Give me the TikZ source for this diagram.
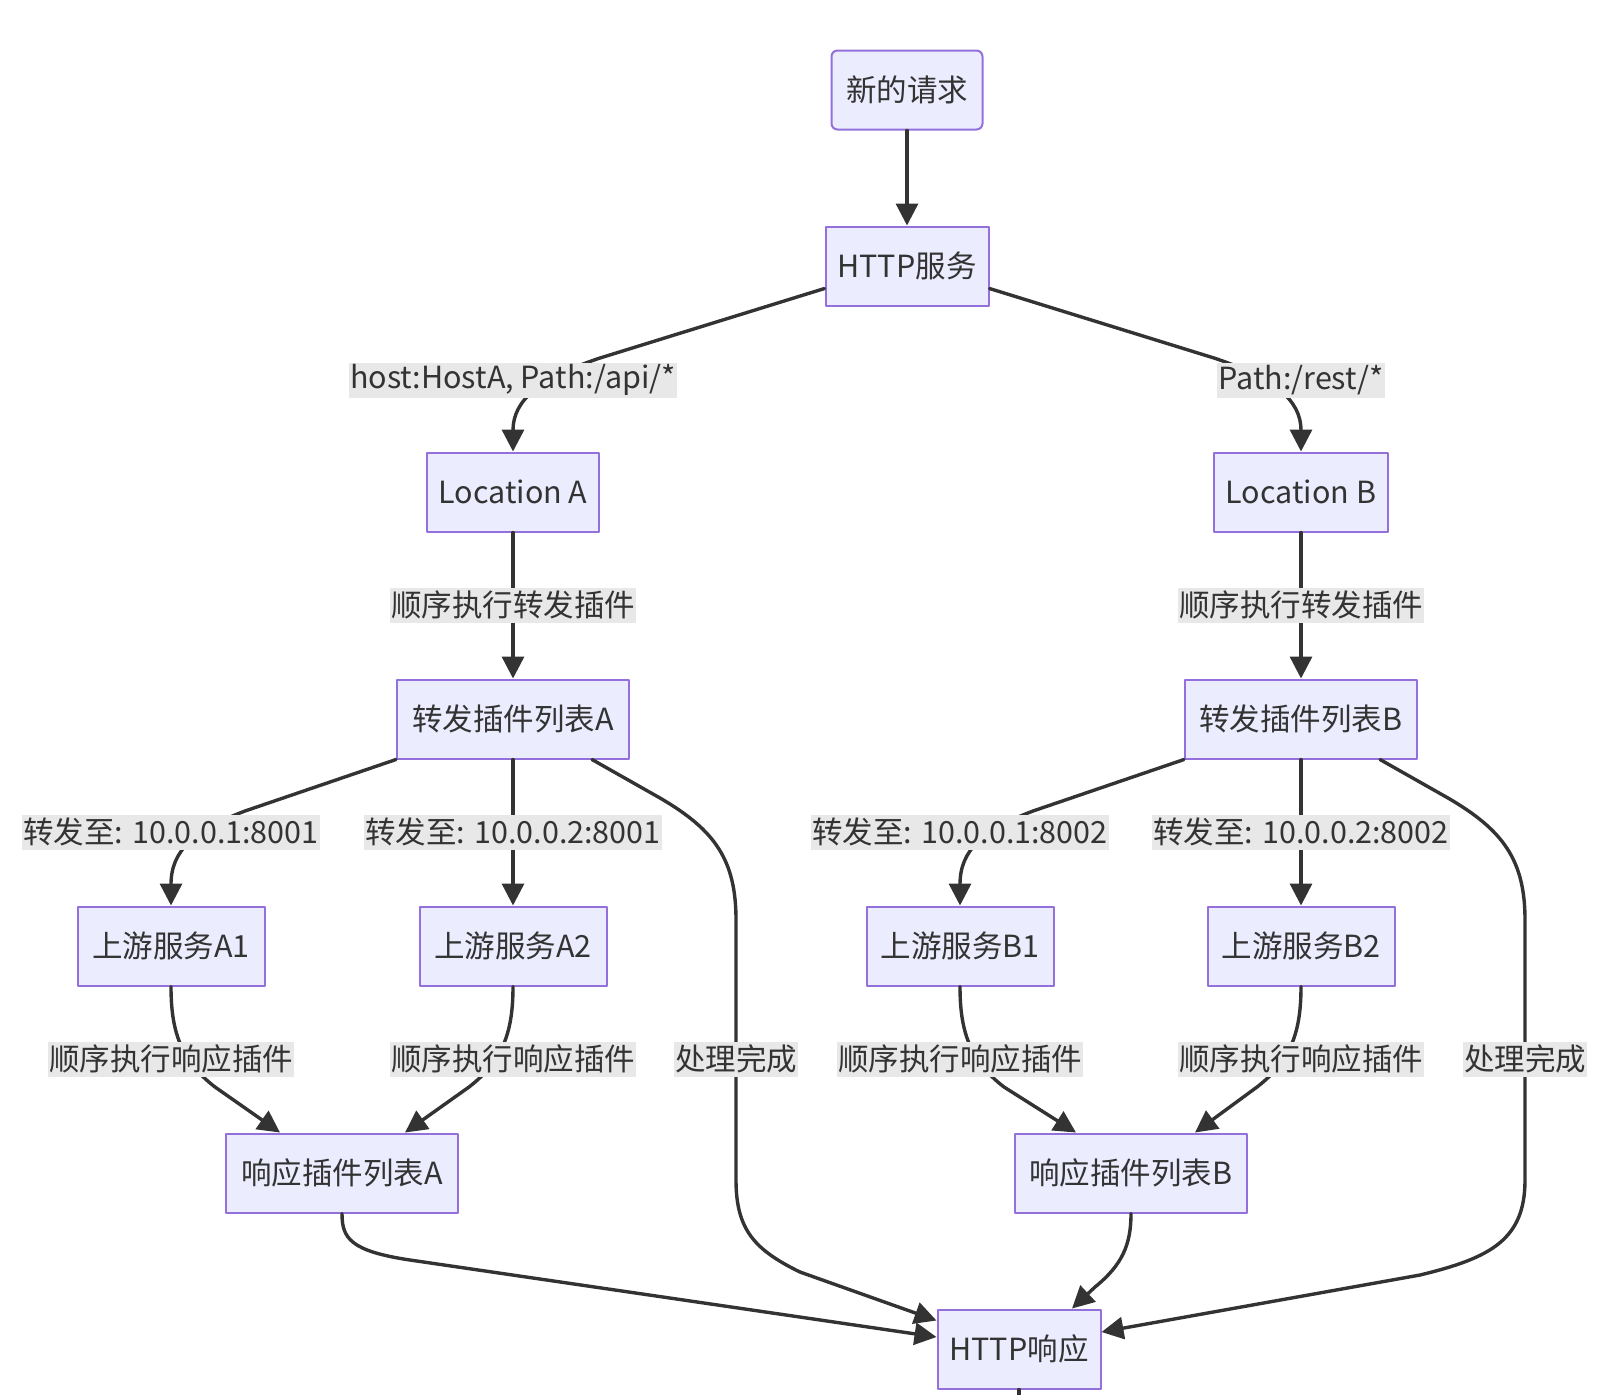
\documentclass[tikz,border=0pt]{standalone}
\usepackage{fontspec}
\setmainfont{Noto Sans CJK SC}
\usetikzlibrary{arrows.meta}
\definecolor{boxfill}{HTML}{ECECFF}
\definecolor{boxline}{HTML}{9370DB}
\definecolor{ink}{HTML}{333333}
\definecolor{lblbg}{HTML}{E8E8E8}
\begin{document}
\begin{tikzpicture}[x=0.5pt,y=-0.5pt,line join=round,line cap=round,
	font=\fontsize{15.25}{18}\selectfont,text=ink,
	box/.style={draw=boxline,fill=boxfill,line width=1pt,minimum height=39.5pt,inner sep=0pt},
	lbl/.style={fill=lblbg,inner xsep=0.5pt,inner ysep=0pt,minimum height=17.5pt},
	flow/.style={draw=ink,line width=1.7pt,-{Triangle[length=11pt,width=11pt]}}]
	\useasboundingbox (0,0) rectangle (1622,1394);
	% nodes
	\node[box,rounded corners=3pt,minimum width=75.5pt] (req) at (907,90) {新的请求};
	\node[box,minimum width=81.5pt] (http) at (907,266) {HTTP服务};
	\node[box,minimum width=86pt] (locA) at (513,492) {Location A};
	\node[box,minimum width=87pt] (locB) at (1301,492) {Location B};
	\node[box,minimum width=116pt] (fwdA) at (513,719) {转发插件列表A};
	\node[box,minimum width=116pt] (fwdB) at (1301,719) {转发插件列表B};
	\node[box,minimum width=93.5pt] (upA1) at (171,946) {上游服务A1};
	\node[box,minimum width=93.5pt] (upA2) at (513,946) {上游服务A2};
	\node[box,minimum width=93.5pt] (upB1) at (960,946) {上游服务B1};
	\node[box,minimum width=93.5pt] (upB2) at (1301,946) {上游服务B2};
	\node[box,minimum width=116pt] (respA) at (342,1173) {响应插件列表A};
	\node[box,minimum width=116pt] (respB) at (1131,1173) {响应插件列表B};
	\node[box,minimum width=81.5pt] (resp) at (1019,1349) {HTTP响应};
	\coordinate (cut) at (1019,1400);
	% connectors
	\draw[flow] (req) -- (http);
	\draw[flow] ([yshift=9pt]http.south west) -- (600,358) .. controls (540,378) and (513,400) .. (locA.north);
	\draw[flow] ([yshift=9pt]http.south east) -- (1214,358) .. controls (1274,378) and (1301,400) .. (locB.north);
	\draw[flow] (locA) -- (fwdA);
	\draw[flow] (locB) -- (fwdB);
	\draw[flow] (fwdA.south west) -- (245,811) .. controls (195,830) and (171,850) .. (upA1.north);
	\draw[flow] (fwdA) -- (upA2);
	\draw[flow] ([xshift=-19pt]fwdA.south east) -- (660,798) .. controls (715,830) and (736,860) .. (736,920)
		-- (736,1180) .. controls (736,1230) and (755,1250) .. (800,1272) -- ([yshift=-6pt]resp.north west);
	\draw[flow] (fwdB.south west) -- (1033,811) .. controls (983,830) and (960,850) .. (upB1.north);
	\draw[flow] (fwdB) -- (upB2);
	\draw[flow] ([xshift=-19pt]fwdB.south east) -- (1448,798) .. controls (1503,830) and (1525,860) .. (1525,920)
		-- (1525,1180) .. controls (1525,1240) and (1490,1258) .. (1420,1275) -- ([yshift=8.5pt]resp.east);
	\draw[flow] (upA1.south) .. controls (171,1030) and (180,1060) .. (215,1087) -- ([xshift=-31pt]respA.north);
	\draw[flow] (upA2.south) .. controls (513,1030) and (504,1060) .. (469,1087) -- ([xshift=31.5pt]respA.north);
	\draw[flow] (upB1.south) .. controls (960,1030) and (969,1060) .. (1004,1087) -- ([xshift=-27.5pt]respB.north);
	\draw[flow] (upB2.south) .. controls (1301,1030) and (1292,1060) .. (1257,1087) -- ([xshift=32pt]respB.north);
	\draw[flow] (respA.south) .. controls (342,1238) and (350,1251) .. (410,1260) -- ([yshift=6pt]resp.west);
	\draw[flow] (respB.south) .. controls (1131,1245) and (1122,1265) .. (1095,1287) -- ([xshift=26.5pt]resp.north);
	\draw[draw=ink,line width=1.7pt] (resp.south) -- (cut);
	% labels
	\node[lbl] (lapi) at (513,380) {host:HostA, Path:/api/*};
	\node[lbl] (lrest) at (1301,380) {Path:/rest/*};
	\node[lbl] (lseqA) at (513,605) {顺序执行转发插件};
	\node[lbl] (lseqB) at (1301,605) {顺序执行转发插件};
	\node[lbl] (lto1) at (171,832) {转发至: 10.0.0.1:8001};
	\node[lbl] (lto2) at (513,832) {转发至: 10.0.0.2:8001};
	\node[lbl] (lto3) at (960,832) {转发至: 10.0.0.1:8002};
	\node[lbl] (lto4) at (1301,832) {转发至: 10.0.0.2:8002};
	\node[lbl] (lrsp1) at (171,1059) {顺序执行响应插件};
	\node[lbl] (lrsp2) at (513,1059) {顺序执行响应插件};
	\node[lbl] (lrsp3) at (960,1059) {顺序执行响应插件};
	\node[lbl] (lrsp4) at (1301,1059) {顺序执行响应插件};
	\node[lbl] (ldoneA) at (736,1059) {处理完成};
	\node[lbl] (ldoneB) at (1525,1059) {处理完成};
\end{tikzpicture}
\end{document}
